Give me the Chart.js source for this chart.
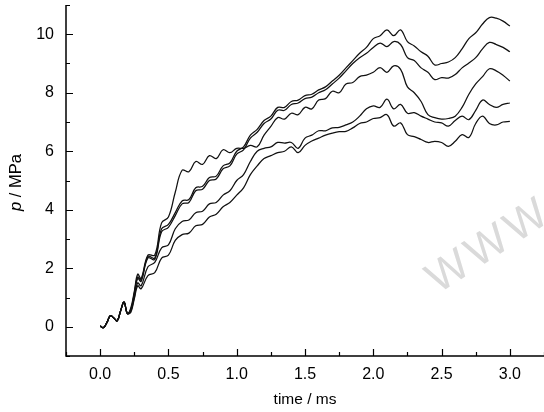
<!DOCTYPE html>
<html><head><meta charset="utf-8">
<script src="https://cdn.jsdelivr.net/npm/chart.js@4.4.0/dist/chart.umd.min.js"></script>
<style>html,body{margin:0;padding:0;background:#fff}canvas{display:block}</style>
</head><body><canvas id="c" width="544" height="412"></canvas>
<script>
// time axis (ms)
const time = [0,0.025,0.05,0.075,0.1,0.125,0.15,0.175,0.2,0.225,0.25,0.275,0.3,
  0.35,0.4,0.45,0.5,0.55,0.6,0.65,0.7,0.75,0.8,0.85,0.9,0.95,1.0,1.05,1.1,1.15,1.2,1.25,1.3,1.35,1.4,1.45,1.5,
  1.55,1.6,1.65,1.7,1.75,1.8,1.85,1.9,1.95,2.0,2.05,2.1,2.15,2.2,2.25,2.3,2.35,2.4,2.45,2.5,2.55,2.6,2.65,2.7,
  2.75,2.8,2.85,2.9,2.95,3.0];
// pressure curves (MPa)
const curveA = [0.02,-0.03,0.15,0.38,0.3,0.2,0.55,0.84,0.45,0.6,1.15,1.7,1.6,
  2.4,2.35,3.35,3.5,3.9,4.3,4.35,4.75,4.8,5.1,5.15,5.5,5.6,6.0,6.15,6.55,6.75,7.05,7.2,7.5,7.5,7.7,7.75,7.9,
  7.95,8.1,8.2,8.4,8.6,8.85,9.1,9.35,9.55,9.85,9.95,10.15,9.95,10.15,9.75,9.6,9.4,9.25,8.95,9.0,9.05,9.2,9.5,9.85,
  10.05,10.35,10.57,10.55,10.45,10.28];
const curveB = [0.02,-0.03,0.15,0.38,0.3,0.2,0.55,0.84,0.45,0.58,1.1,1.65,1.55,
  2.35,2.3,3.25,3.4,3.8,4.2,4.25,4.65,4.7,5.0,5.05,5.4,5.5,5.9,6.05,6.45,6.65,6.95,7.1,7.4,7.4,7.6,7.65,7.8,
  7.85,8.0,8.1,8.3,8.5,8.75,9.0,9.2,9.35,9.55,9.7,9.58,9.75,9.65,9.2,9.1,8.85,8.7,8.45,8.52,8.5,8.62,8.85,9.02,
  9.2,9.5,9.72,9.65,9.55,9.4];
const curveC = [0.02,-0.03,0.15,0.38,0.3,0.2,0.55,0.84,0.45,0.65,1.2,1.8,1.65,
  2.45,2.45,3.55,3.75,4.6,5.35,5.3,5.65,5.55,5.85,5.75,6.05,5.95,6.1,6.1,6.2,6.15,6.55,6.85,7.15,7.1,7.3,7.25,7.5,
  7.45,7.75,7.8,8.05,8.0,8.3,8.35,8.55,8.6,8.7,8.86,8.7,8.92,8.8,8.2,8.0,7.7,7.25,7.15,7.1,7.12,7.2,7.5,7.95,
  8.3,8.55,8.82,8.75,8.6,8.4];
const curveD = [0.02,-0.03,0.15,0.38,0.3,0.2,0.55,0.84,0.45,0.55,1.0,1.5,1.4,
  2.05,2.2,2.7,2.8,3.35,3.6,3.65,3.9,3.95,4.2,4.25,4.5,4.65,5.0,5.2,5.65,6.0,6.1,6.15,6.3,6.28,6.3,6.1,6.45,
  6.55,6.7,6.7,6.8,6.82,6.9,7.0,7.2,7.45,7.55,7.5,7.78,7.45,7.6,7.3,7.32,7.2,7.1,7.0,6.97,6.86,7.05,7.2,7.08,
  7.4,7.75,7.6,7.5,7.6,7.65];
const curveE = [0.02,-0.03,0.15,0.38,0.3,0.2,0.55,0.84,0.45,0.5,0.95,1.4,1.3,
  1.75,1.85,2.35,2.45,2.95,3.15,3.2,3.45,3.5,3.75,3.85,4.1,4.25,4.5,4.75,5.2,5.5,5.75,5.85,5.95,6.0,6.15,5.95,6.2,
  6.35,6.45,6.55,6.62,6.67,6.68,6.8,6.95,7.0,7.12,7.15,7.25,6.86,6.97,6.57,6.5,6.4,6.3,6.34,6.3,6.17,6.34,6.57,6.47,
  6.95,7.2,6.95,6.9,7.0,7.02];
// ticks
const xTickValues = [0,0.5,1.0,1.5,2.0,2.5,3.0];
const xMinorValues = [-0.25,0.25,0.75,1.25,1.75,2.25,2.75,3.25];
const yTickValues = [0,2,4,6,8,10];
const yMinorValues = [-1,1,3,5,7,9,11];
const xTitle = 'time / ms';
const yTitleItalic = 'p';
const yTitleRest = ' / MPa';
const watermarkText = 'WWW';

const FONT = '"Liberation Sans", Arial, sans-serif';

const series = [curveA, curveB, curveC, curveD, curveE];
const datasets = series.map(s => ({
  data: time.map((t, i) => ({x: t, y: s[i]})),
  borderColor: '#111', borderWidth: 1.25, pointRadius: 0, fill: false, tension: 0.4
}));

const decor = {
  id: 'decor',
  beforeDatasetsDraw(chart) {
    const ctx = chart.ctx;
    ctx.save();
    ctx.translate(490, 246);
    ctx.rotate(-33 * Math.PI / 180);
    ctx.font = '300 44px "Liberation Sans", Arial, sans-serif';
    try { ctx.letterSpacing = '5px'; } catch (e) {}
    ctx.fillStyle = '#dadada';
    ctx.textAlign = 'center'; ctx.textBaseline = 'middle';
    ctx.fillText(watermarkText, 0, 0);
    ctx.restore();
  },
  afterDraw(chart) {
    const {ctx, chartArea: a, scales: {x, y}} = chart;
    ctx.save();
    ctx.strokeStyle = '#000'; ctx.lineWidth = 1.5;
    ctx.beginPath();
    ctx.moveTo(a.left, a.top); ctx.lineTo(a.left, a.bottom); ctx.lineTo(a.right, a.bottom);
    ctx.stroke();
    ctx.lineWidth = 1.2;
    ctx.beginPath();
    xTickValues.forEach(v => { const px = Math.round(x.getPixelForValue(v)) + 0.5; ctx.moveTo(px, a.bottom); ctx.lineTo(px, a.bottom - 7); });
    xMinorValues.forEach(v => { const px = Math.round(x.getPixelForValue(v)) + 0.5; ctx.moveTo(px, a.bottom); ctx.lineTo(px, a.bottom - 4); });
    yTickValues.forEach(v => { const py = Math.round(y.getPixelForValue(v)) + 0.5; ctx.moveTo(a.left, py); ctx.lineTo(a.left + 7, py); });
    yMinorValues.forEach(v => { const py = Math.round(y.getPixelForValue(v)) + 0.5; ctx.moveTo(a.left, py); ctx.lineTo(a.left + 4, py); });
    ctx.stroke();
    // titles
    ctx.fillStyle = '#000';
    ctx.font = '15.5px ' + FONT;
    ctx.textAlign = 'center'; ctx.textBaseline = 'middle';
    ctx.fillText(xTitle, (a.left + a.right) / 2, 400);
    ctx.translate(16, (a.top + a.bottom) / 2 + 2);
    ctx.rotate(-Math.PI / 2);
    ctx.font = 'italic 16.5px ' + FONT;
    const w1 = ctx.measureText(yTitleItalic).width;
    ctx.font = '16.5px ' + FONT;
    const w2 = ctx.measureText(yTitleRest).width;
    const start = -(w1 + w2) / 2;
    ctx.textAlign = 'left';
    ctx.font = 'italic 16.5px ' + FONT;
    ctx.fillText(yTitleItalic, start, 0);
    ctx.font = '16.5px ' + FONT;
    ctx.fillText(yTitleRest, start + w1, 0);
    ctx.restore();
  }
};

new Chart(document.getElementById('c'), {
  type: 'line',
  data: {datasets},
  plugins: [decor],
  options: {
    responsive: false, animation: false, devicePixelRatio: 1,
    layout: {padding: {top: 5, right: 0, left: 0, bottom: 0}},
    plugins: {legend: {display: false}, tooltip: {enabled: false}, title: {display: false}},
    scales: {
      x: {
        type: 'linear', min: -0.25, max: 3.25,
        afterFit(s) { s.height = 56; s.paddingLeft = 0; s.paddingRight = 0; },
        afterBuildTicks(s) { s.ticks = xTickValues.map(v => ({value: v})); },
        grid: {display: false, drawTicks: false}, border: {display: false},
        ticks: {color: '#000', font: {size: 16, family: FONT}, padding: 9, maxRotation: 0, autoSkip: false,
          callback: v => Number(v).toFixed(1)}
      },
      y: {
        type: 'linear', min: -1, max: 11,
        afterFit(s) { s.width = 66; s.paddingTop = 0; s.paddingBottom = 0; },
        afterBuildTicks(s) { s.ticks = yTickValues.map(v => ({value: v})); },
        grid: {display: false, drawTicks: false}, border: {display: false},
        ticks: {color: '#000', font: {size: 16, family: FONT}, padding: 12, autoSkip: false,
          callback: v => String(v)}
      }
    }
  }
});
</script>
</body></html>
